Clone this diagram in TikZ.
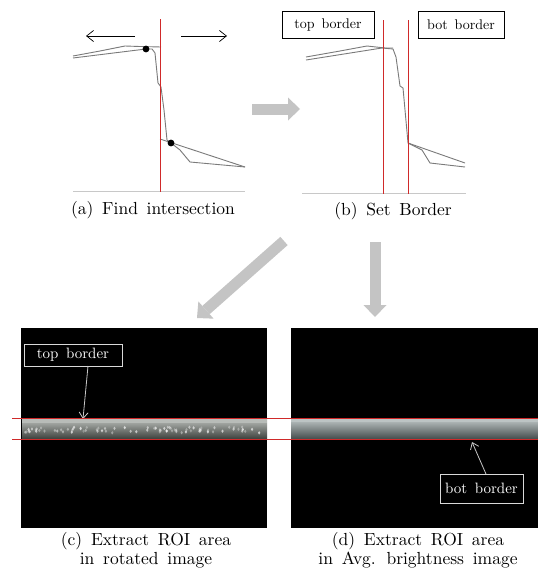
\documentclass[tikz,border=0pt]{standalone}
\usepackage{fontspec}
\newfontfamily\capfont{lmroman10-regular}[Extension=.otf, WordSpace=1.5]
\usetikzlibrary{arrows.meta}
\definecolor{arrgray}{HTML}{C4C4C4}
\definecolor{curvegray}{HTML}{7A7A7A}
\definecolor{redline}{HTML}{D02A2A}
\definecolor{baseg}{HTML}{C8C8C8}
\definecolor{bandcA}{HTML}{B8BCB8}
\definecolor{bandcB}{HTML}{8A908A}
\definecolor{bandcC}{HTML}{3C403C}
\definecolor{banddA}{HTML}{BCC4C4}
\definecolor{banddB}{HTML}{8C9494}
\definecolor{banddC}{HTML}{444C4C}
\tikzset{
  curve/.style={draw=curvegray, line width=0.9pt, line join=round},
  fatarrow/.style={draw=arrgray, line width=11pt, -{Triangle[width=23pt,length=12pt,line width=0pt]}},
  thinarrow/.style={draw=black, line width=0.7pt, -{Straight Barb[length=7pt,width=11pt]}},
  labelarrow/.style={draw=baseg, line width=0.8pt, -{Straight Barb[length=6pt,width=9pt]}},
  caption/.style={font=\capfont\fontsize{17.5}{18.5}\selectfont, align=center, inner sep=0pt},
  whitebox/.style={draw=black, line width=0.6pt, fill=white, font=\capfont\fontsize{14}{16}\selectfont, inner sep=0pt},
  darkbox/.style={draw=white!85!black, line width=0.8pt, fill=black, text=white, font=\capfont\fontsize{15}{17}\selectfont, inner sep=0pt},
  redrule/.style={fill=redline},
}
\begin{document}
\begin{tikzpicture}[x=1pt,y=-1pt]
\useasboundingbox (0,0) rectangle (538,573);
\fill[white] (0,0) rectangle (538,573);

% ---------- panel (a) ----------
\fill[baseg] (73,191) rectangle (245,192);
\draw[curve] (73,56) -- (100,51) -- (125,46) -- (140,46.5) -- (161,47);
\draw[curve] (73,58) -- (146,49) -- (152,49) -- (155,53) -- (158,83) -- (161,87) -- (164,110) -- (167,140) -- (171,143) -- (180,150) -- (190,162) -- (245,167);
\draw[curve] (160,139) -- (245,167);
\fill[redrule] (159.7,19) rectangle (161.3,192);
\fill (146,49) circle (3.4pt);
\fill (171,143) circle (3.4pt);
\coordinate (la1) at (135,36); \coordinate (la2) at (86,36);
\coordinate (ra1) at (181,36); \coordinate (ra2) at (227,36);
\draw[thinarrow] (la1) -- (la2);
\draw[thinarrow] (ra1) -- (ra2);
\node[caption] (capa) at (153,210) {(a) Find intersection};

% ---------- panel (b) ----------
\fill[baseg] (302,193) rectangle (466,194);
\draw[curve] (306,57) -- (340,51) -- (367,46) -- (385,48) -- (393,48);
\draw[curve] (306,60) -- (382,48) -- (393,49) -- (396,57) -- (400,86) -- (403,88) -- (408,143) -- (422,150) -- (430,163) -- (465,167);
\draw[curve] (408,143) -- (465,163);
\fill[redrule] (382.7,20) rectangle (384.3,194);
\fill[redrule] (407.7,20) rectangle (409.3,194);
\node[whitebox, minimum width=92pt, minimum height=27pt] (topb) at (328,24.5) {top border};
\node[whitebox, minimum width=86pt, minimum height=27pt] (botb) at (461,24.5) {bot border};
\node[caption] (capb) at (393,211) {(b) Set Border};

% ---------- fat arrows ----------
\coordinate (f1s) at (252,109); \coordinate (f1e) at (300,109);
\coordinate (f2s) at (284,241); \coordinate (f2e) at (197,318);
\coordinate (f3s) at (375,242); \coordinate (f3e) at (375,317);
\draw[fatarrow] (f1s) -- (f1e);
\draw[fatarrow] (f2s) -- (f2e);
\draw[fatarrow] (f3s) -- (f3e);

% ---------- panel (c) ----------
\fill[black] (21,328) rectangle (267,528);
\shade[top color=bandcA, middle color=bandcB, bottom color=bandcC] (22,419) rectangle (267,439);
\fill[bandcA] (22,419) rectangle (267,423);
\pgfmathsetseed{11}
\foreach \i in {1,...,80}{
  \pgfmathsetmacro{\xx}{25+238*rnd}
  \pgfmathsetmacro{\yy}{427+6*rnd}
  \pgfmathsetmacro{\oo}{0.25+0.45*rnd}
  \fill[white, opacity=\oo] (\xx,\yy) ellipse (1.2pt and 1.7pt);
}
\node[darkbox, minimum width=98pt, minimum height=22pt] (topc) at (73,355) {top border};
\coordinate (tcend) at (83,419);
\draw[labelarrow] (88,366) -- (tcend);
\node[caption] (capc) at (146,550) {(c) Extract ROI area\\in rotated image};

% ---------- panel (d) ----------
\fill[black] (291,328) rectangle (538,528);
\shade[top color=banddA, middle color=banddB, bottom color=banddC] (291,419) rectangle (538,439);
\fill[banddA] (291,419) rectangle (538,422);
\node[darkbox, minimum width=83pt, minimum height=29pt] (botd) at (481.5,488.5) {bot border};
\coordinate (bdend) at (472,442);
\draw[labelarrow] (486,474) -- (bdend);
\node[caption] (capd) at (418,550) {(d) Extract ROI area\\in Avg. brightness image};

% ---------- red horizontal lines ----------
\fill[redrule] (12,417.7) rectangle (538,419.3);
\fill[redrule] (12,438.7) rectangle (538,440.3);
\end{tikzpicture}
\end{document}
